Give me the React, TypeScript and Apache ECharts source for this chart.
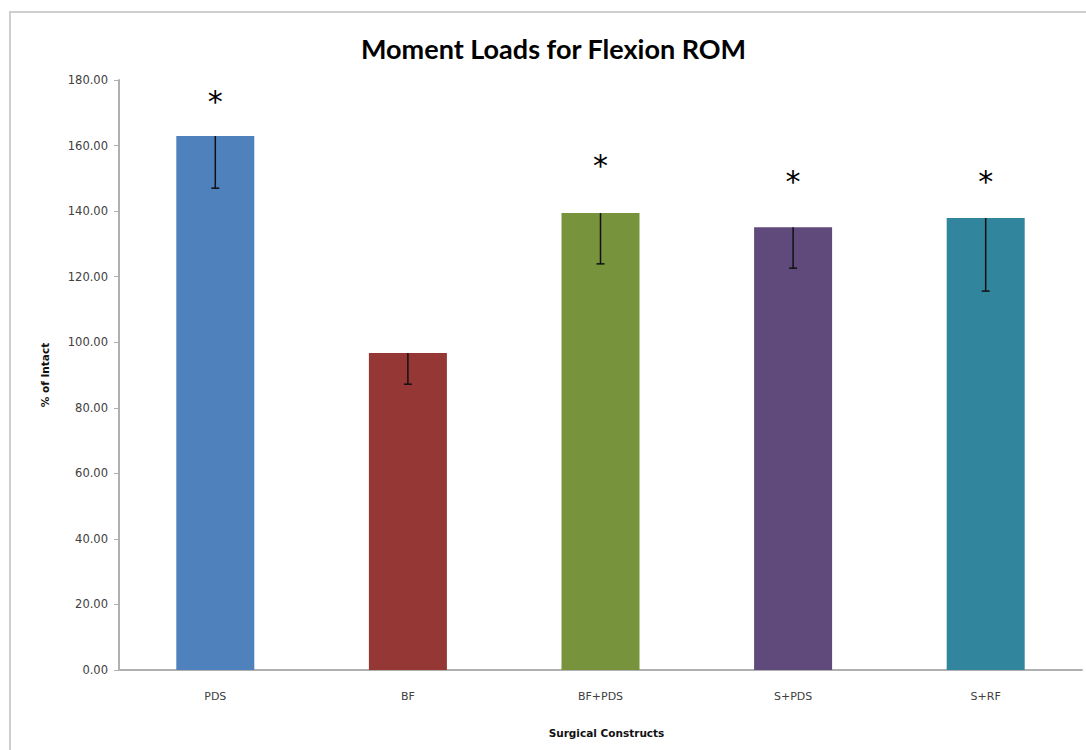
import React, { useEffect, useRef } from "react";
import * as echarts from "echarts";

const categories = ["PDS", "BF", "BF+PDS", "S+PDS", "S+RF"];
const meanValues = [162.9, 96.7, 139.4, 135.1, 137.9];
const lowerError = [15.9, 9.5, 15.5, 12.5, 22.3];
const starLevels = [173.3, null, 153.8, 148.9, 148.9];
const barColors = ["#4F81BD", "#953735", "#77933C", "#604A7B", "#31859C"];
const yTicks = { min: 0, max: 180, interval: 20 };

export default function App() {
  const ref = useRef<HTMLDivElement>(null);
  useEffect(() => {
    document.body.style.margin = "0";
    const chart = echarts.init(ref.current!, null, { renderer: "svg" });
    const font = "Lato, 'Open Sans', sans-serif";
    const small = "'DejaVu Sans', sans-serif";
    chart.setOption({
      animation: false,
      backgroundColor: "#ffffff",
      title: {
        text: "Moment Loads for Flexion ROM",
        left: 356,
        top: 30,
        textStyle: { fontFamily: font, fontSize: 27, fontWeight: "bold", color: "#000" },
      },
      graphic: [
        {
          type: "rect",
          shape: { x: 10, y: 12, width: 1200, height: 900 },
          style: { fill: "none", stroke: "#cfcfcf", lineWidth: 2 },
          silent: true,
        },
      ],
      grid: { left: 119, right: 4, top: 80, bottom: 80, containLabel: false },
      xAxis: {
        type: "category",
        data: categories,
        axisLine: { lineStyle: { color: "#b0b0b0", width: 2 } },
        axisTick: { show: false },
        axisLabel: { fontFamily: small, fontSize: 11, color: "#404040", margin: 21 },
        name: "Surgical Constructs",
        nameLocation: "middle",
        nameGap: 57,
        nameTextStyle: { fontFamily: small, fontSize: 10.5, fontWeight: "bold", color: "#111", padding: [0, 0, 0, 12] },
      },
      yAxis: {
        type: "value",
        min: yTicks.min,
        max: yTicks.max,
        interval: yTicks.interval,
        splitLine: { show: false },
        axisLine: { show: true, lineStyle: { color: "#b0b0b0", width: 2 } },
        axisTick: { show: true, length: 5, lineStyle: { color: "#b0b0b0" } },
        axisLabel: {
          fontFamily: small,
          fontSize: 11.5,
          color: "#404040",
          margin: 11,
          formatter: (v: number) => v.toFixed(2),
        },
        name: "% of Intact",
        nameLocation: "middle",
        nameGap: 69,
        nameTextStyle: { fontFamily: small, fontSize: 10.5, fontWeight: "bold", color: "#111" },
      },
      series: [
        {
          type: "bar",
          barWidth: 78,
          data: meanValues.map((v, i) => ({ value: v, itemStyle: { color: barColors[i] } })),
        },
        {
          type: "custom",
          renderItem: (params: any, api: any) => {
            const i = api.value(0);
            const top = api.coord([i, api.value(1)]);
            const bot = api.coord([i, api.value(2)]);
            const style = { stroke: "#111", lineWidth: 1.5 };
            return {
              type: "group",
              children: [
                { type: "line", shape: { x1: top[0], y1: top[1], x2: bot[0], y2: bot[1] }, style },
                { type: "line", shape: { x1: bot[0] - 4, y1: bot[1], x2: bot[0] + 4, y2: bot[1] }, style },
              ],
            };
          },
          data: meanValues.map((v, i) => [i, v, v - lowerError[i]]),
          z: 5,
        },
        {
          type: "custom",
          renderItem: (params: any, api: any) => {
            const p = api.coord([api.value(0), api.value(1)]);
            return {
              type: "text",
              x: p[0],
              y: p[1],
              style: {
                text: "*",
                fontSize: 30,
                fontFamily: "'DejaVu Sans', sans-serif",
                fill: "#000",
                align: "center",
                verticalAlign: "middle",
              },
            };
          },
          data: starLevels
            .map((v, i) => (v == null ? null : [i, v]))
            .filter((d) => d != null),
          z: 6,
        },
      ],
    });
    return () => chart.dispose();
  }, []);
  return <div ref={ref} style={{ width: 1086, height: 750 }} />;
}
